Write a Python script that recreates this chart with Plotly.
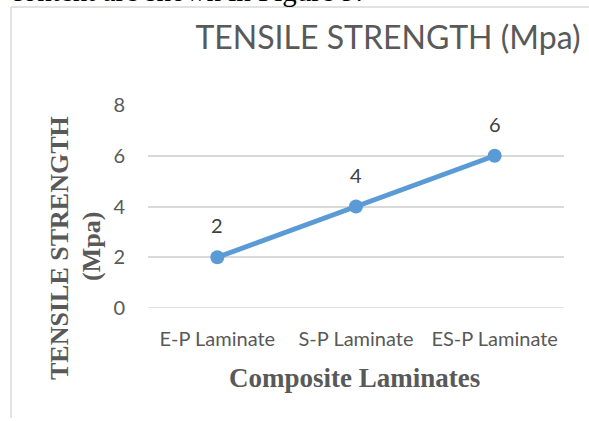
import plotly.graph_objects as go

# Data
categories = ["E-P Laminate", "S-P Laminate", "ES-P Laminate"]
strength = [2, 4, 6]
y_ticks = [0, 2, 4, 6, 8]

W, H = 589, 421
L, R, T, B = 148, 25, 105, 113
PW, PH = W - L - R, H - T - B

def px_x(x):
    return (x - L) / PW

def px_y(y):
    return (H - B - y) / PH

GRID = "#D9D9D9"
TXT = "#595959"
SANS = "Lato, Open Sans, sans-serif"
SERIF = "Liberation Serif, Times New Roman, serif"

fig = go.Figure()
fig.add_trace(go.Scatter(
    x=categories, y=strength,
    mode="lines+markers",
    line=dict(color="#5B9BD5", width=5),
    marker=dict(color="#5B9BD5", size=14),
    cliponaxis=False,
    showlegend=False,
))

# Value labels above each point
for c, v in zip(categories, strength):
    fig.add_annotation(
        x=c, y=v, text=str(v), showarrow=False, yshift=32,
        xanchor="center", yanchor="middle",
        font=dict(family=SANS, size=20, color="#404040"),
    )

fig.update_layout(
    width=W, height=H,
    margin=dict(l=L, r=R, t=T, b=B, autoexpand=False),
    paper_bgcolor="white", plot_bgcolor="white",
    title=dict(
        text="TENSILE STRENGTH (Mpa)",
        font=dict(family=SANS, size=32, color=TXT),
        xref="container", yref="container",
        x=388 / W, y=(H - 38) / H, xanchor="center", yanchor="middle",
    ),
    xaxis=dict(
        type="category", range=[-0.5, 2.5],
        showgrid=False, showline=False, zeroline=False, ticks="",
        tickfont=dict(family=SANS, size=20, color=TXT),
        ticklabelstandoff=17,
    ),
    yaxis=dict(
        range=[0, 8], tickvals=y_ticks,
        showgrid=True, gridcolor=GRID, gridwidth=1.5,
        zeroline=False, showline=False, ticks="",
        tickfont=dict(family=SANS, size=20, color=TXT),
        ticklabelstandoff=22,
    ),
)

# Zero line drawn as a gridline across the plot
fig.add_shape(type="line", xref="paper", yref="y", x0=0, x1=1, y0=0, y1=0,
              line=dict(color=GRID, width=1.5))

# Axis titles
fig.add_annotation(
    text="<b>TENSILE STRENGTH</b>", textangle=-90,
    xref="paper", yref="paper", x=px_x(60), y=px_y(248),
    xanchor="center", yanchor="middle", showarrow=False,
    font=dict(family=SERIF, size=26, color=TXT),
)
fig.add_annotation(
    text="<b>(Mpa)</b>", textangle=-90,
    xref="paper", yref="paper", x=px_x(91), y=px_y(247),
    xanchor="center", yanchor="middle", showarrow=False,
    font=dict(family=SERIF, size=26, color=TXT),
)
fig.add_annotation(
    text="<b>Composite Laminates</b>",
    xref="paper", yref="paper", x=px_x(354), y=px_y(378),
    xanchor="center", yanchor="middle", showarrow=False,
    font=dict(family=SERIF, size=27, color=TXT),
)

# Surrounding document text and chart frame
fig.add_annotation(
    text="content are shown in Figure 9.",
    xref="paper", yref="paper", x=px_x(8), y=px_y(-9),
    xanchor="left", yanchor="middle", showarrow=False,
    font=dict(family=SERIF, size=29, color="black"),
)
fig.add_shape(type="line", xref="paper", yref="paper",
              x0=px_x(11), x1=px_x(W + 5), y0=px_y(7), y1=px_y(7),
              line=dict(color=GRID, width=1.5))
fig.add_shape(type="line", xref="paper", yref="paper",
              x0=px_x(11), x1=px_x(11), y0=px_y(7), y1=px_y(418),
              line=dict(color=GRID, width=1.5))

fig.write_html("out.html")
